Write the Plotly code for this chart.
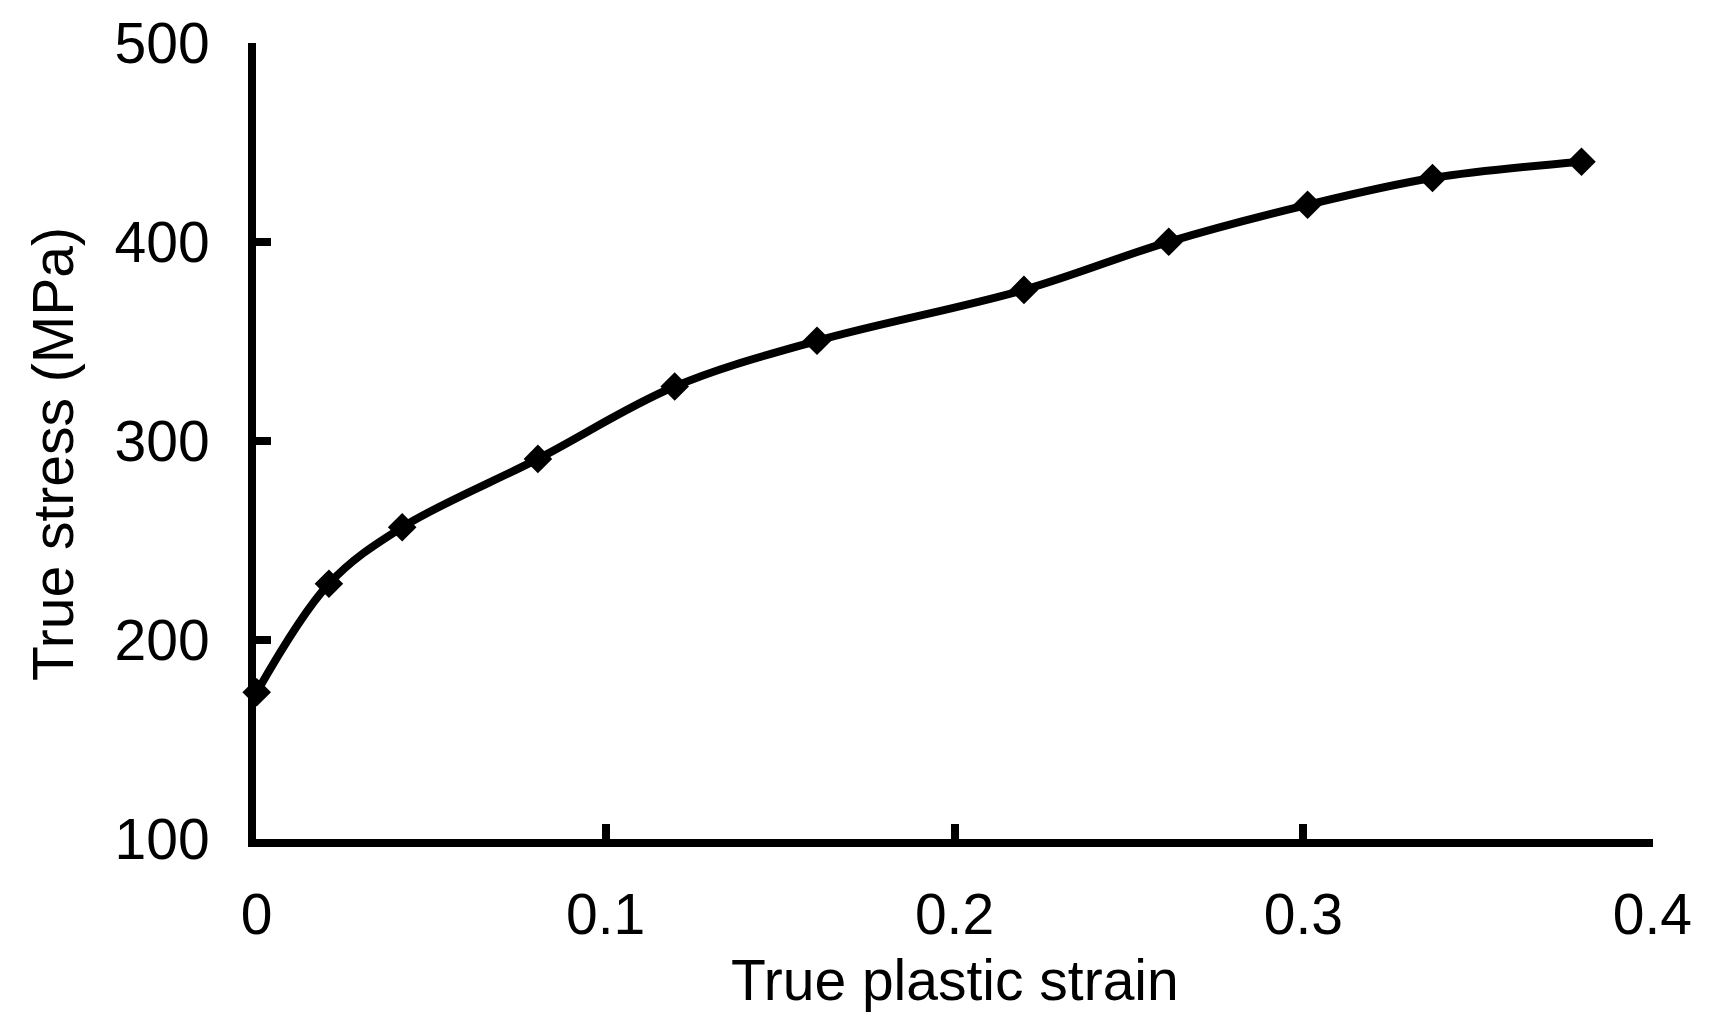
import plotly.graph_objects as go

strain = [0.0, 0.0207, 0.0417, 0.0806, 0.1198, 0.1606, 0.2199, 0.2614, 0.3012, 0.3370, 0.3797]
stress = [173.6, 228.2, 256.6, 291.0, 327.4, 350.4, 376.0, 400.2, 418.8, 432.3, 440.5]

x_ticks = [0, 0.1, 0.2, 0.3, 0.4]
x_tick_labels = ["0", "0.1", "0.2", "0.3", "0.4"]
y_ticks = [100, 200, 300, 400, 500]
y_tick_labels = ["100", "200", "300", "400", "500"]

FONT = "Liberation Sans, Arial, sans-serif"

# plot-area edges in figure pixels
L, R, T, B = 248, 1645, 35, 831

fig = go.Figure()
fig.add_trace(go.Scatter(
    x=strain, y=stress, mode="lines+markers",
    line=dict(color="black", width=8, shape="spline", smoothing=1.0),
    marker=dict(symbol="diamond", size=22, color="black"),
    cliponaxis=False, showlegend=False,
))

axis_common = dict(
    showgrid=False, zeroline=False, showline=True, linecolor="black", linewidth=8,
    ticks="inside", ticklen=15, tickwidth=8, tickcolor="black", automargin=False,
    tickfont=dict(family=FONT, size=57, color="black"),
)

fig.update_layout(
    width=1721, height=1032,
    margin=dict(l=L, r=1721 - R, t=T, b=1032 - B, autoexpand=False),
    paper_bgcolor="white", plot_bgcolor="white",
    xaxis=dict(range=[-0.0002, 0.4002], tickvals=x_ticks, ticktext=x_tick_labels,
               ticklabelstandoff=19, **axis_common),
    yaxis=dict(range=[99.8, 500.2], tickvals=y_ticks, ticktext=y_tick_labels,
               ticklabelstandoff=27, **axis_common),
    annotations=[
        dict(text="True plastic strain", xref="paper", yref="paper",
             x=(947 - L) / (R - L), y=-(972 - B) / (B - T),
             xanchor="center", yanchor="middle", showarrow=False,
             font=dict(family=FONT, size=57, color="black")),
        dict(text="True stress (MPa)", xref="paper", yref="paper",
             x=-(L - 45) / (R - L), y=(B - 446) / (B - T),
             xanchor="center", yanchor="middle", textangle=-90, showarrow=False,
             font=dict(family=FONT, size=57, color="black")),
    ],
)

fig.write_html("out.html")
